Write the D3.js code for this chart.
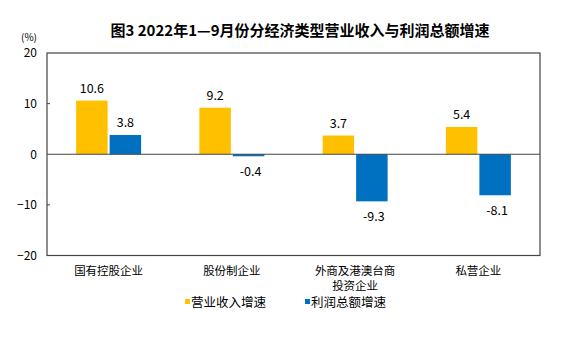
<!DOCTYPE html>
<html><head><meta charset="utf-8">
<script src="https://cdn.jsdelivr.net/npm/d3@7"></script>
<style>body{margin:0;background:#fff}svg{display:block}text{font-family:"Noto Sans CJK SC","DejaVu Sans",sans-serif}</style>
</head><body><svg id="c" width="564" height="341"></svg>
<script>
const title = "图3  2022年1—9月份分经济类型营业收入与利润总额增速";
const categories = [["国有控股企业"],["股份制企业"],["外商及港澳台商","投资企业"],["私营企业"]];
const seriesNames = ["营业收入增速","利润总额增速"];
const revenue = [10.6, 9.2, 3.7, 5.4];
const profit = [3.8, -0.4, -9.3, -8.1];
const yTicks = [-20, -10, 0, 10, 20];
const colors = ["#FFC000", "#0070C0"];

const svg = d3.select("#c");
const L = 47, R = 540, T = 53, B = 255.5;
const x = d3.scaleBand().domain(d3.range(categories.length)).range([L, R]);
const y = d3.scaleLinear().domain([-20, 20]).range([B, T]);
const bw = 31.5, gap = 2;

svg.append("text").attr("x", 300).attr("y", 36).attr("text-anchor","middle")
  .attr("font-size", 15).attr("font-weight","bold").attr("fill","#000").text(title);
svg.append("text").attr("x", 29).attr("y", 41).attr("text-anchor","middle")
  .attr("font-size", 10).attr("fill","#000").text("(%)");

// box
svg.append("rect").attr("x", L).attr("y", T).attr("width", R-L).attr("height", B-T)
  .attr("fill","none").attr("stroke","#444").attr("stroke-width",1.2);

// y axis
const ax = svg.append("g").attr("transform", `translate(${L},0)`)
  .call(d3.axisLeft(y).tickValues(yTicks).tickSize(0).tickPadding(10));
ax.select(".domain").remove();
ax.selectAll("text").attr("font-size", 12).attr("fill","#000").attr("font-family","Liberation Sans, Arial, sans-serif");
svg.append("g").selectAll("line").data([-10,10]).join("line")
  .attr("x1", L).attr("x2", L+3).attr("y1", d=>y(d)).attr("y2", d=>y(d)).attr("stroke","#444");

const series = [revenue, profit];
series.forEach((vals, s) => {
  const g = svg.append("g");
  vals.forEach((v, i) => {
    const cx = x(i) + x.bandwidth()/2;
    const bx = s === 0 ? cx - gap/2 - bw : cx + gap/2;
    g.append("rect").attr("x", bx).attr("width", bw)
      .attr("y", y(Math.max(0, v))).attr("height", Math.max(1, Math.abs(y(v) - y(0))))
      .attr("fill", colors[s]);
    g.append("text").attr("x", bx + bw/2 + (v<0?2:0))
      .attr("y", v >= 0 ? y(v) - 8 : y(v) + 20)
      .attr("text-anchor","middle").attr("font-size", 12.5).attr("fill","#000")
      .attr("font-family","Liberation Sans, Arial, sans-serif")
      .text(v.toFixed(1));
  });
});

// zero line
svg.append("line").attr("x1", L).attr("x2", R).attr("y1", y(0)).attr("y2", y(0))
  .attr("stroke","#444").attr("stroke-width",1.2);

// category labels
categories.forEach((lines, i) => {
  const cx = x(i) + x.bandwidth()/2;
  lines.forEach((t, k) => {
    svg.append("text").attr("x", cx).attr("y", 275 + k*15).attr("text-anchor","middle")
      .attr("font-size", 11.5).attr("fill","#000").text(t);
  });
});

// legend
const legX = [185, 305];
seriesNames.forEach((n, s) => {
  svg.append("rect").attr("x", legX[s]).attr("y", 299).attr("width", 5).attr("height", 5).attr("fill", colors[s]);
  svg.append("text").attr("x", legX[s] + 6).attr("y", 307).attr("font-size", 12.5).attr("fill","#000").text(n);
});
</script></body></html>
